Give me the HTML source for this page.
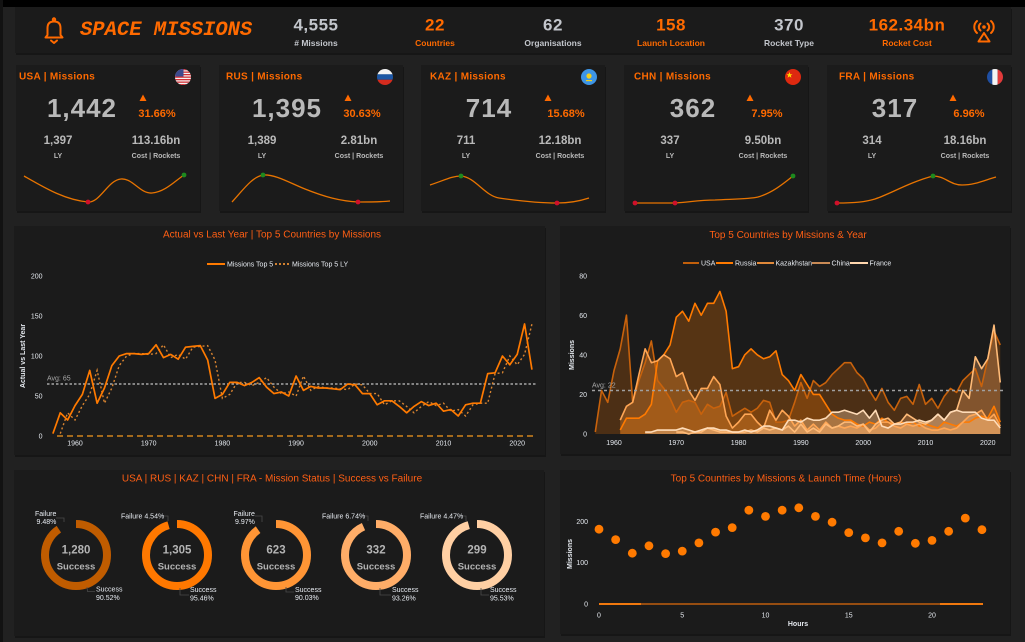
<!DOCTYPE html>
<html><head><meta charset="utf-8">
<style>
html,body{margin:0;padding:0;background:#212121;width:1025px;height:642px;overflow:hidden}
svg{display:block;font-family:"Liberation Sans",Arial,sans-serif}
.ax{font-size:7px;fill:#e4e8ee}
.axt{font-size:7px;fill:#e4e8ee;font-weight:bold}
.tt{font-size:10px;fill:#ff5f14}
.ct{font-size:10px;fill:#ff6a00;font-weight:bold;letter-spacing:0.3px}
.big{font-size:26px;fill:#b9b9b9;font-weight:bold;text-anchor:middle;letter-spacing:1px}
.pct{font-size:11px;fill:#ff6a00;font-weight:bold;text-anchor:middle}
.mid{font-size:11.5px;fill:#b9b9b9;font-weight:bold;text-anchor:middle}
.lab{font-size:7px;fill:#b9b9b9;font-weight:bold;text-anchor:middle}
.hn{font-size:17px;font-weight:bold;text-anchor:middle;letter-spacing:0.5px}
.hl{font-size:8.5px;font-weight:bold;text-anchor:middle}
.g{fill:#c3c6cc}
.o{fill:#ff6a00}
.dn{font-size:11.5px;fill:#b4b4b4;font-weight:bold;text-anchor:middle}
.ds{font-size:9.5px;fill:#b4b4b4;font-weight:bold;text-anchor:middle}
.dl{font-size:7px;fill:#e8ecf2}
.lg{font-size:7px;fill:#e8ecf2}
</style></head>
<body>
<svg width="1025" height="642" viewBox="0 0 1025 642" xmlns="http://www.w3.org/2000/svg">
<defs>
<clipPath id="fc"><circle cx="0" cy="0" r="8"/></clipPath>
</defs>
<rect x="0" y="0" width="1025" height="642" fill="#212121"/>
<rect x="0" y="0" width="1025" height="7" fill="#000"/>
<rect x="0" y="0" width="3" height="642" fill="#121212"/>

<!-- Panels -->
<g fill="#161616">
<rect x="16" y="9" width="996" height="46"/>
<rect x="17" y="67" width="184" height="146"/>
<rect x="220" y="67" width="184" height="146"/>
<rect x="422" y="67" width="184" height="146"/>
<rect x="625" y="67" width="184" height="146"/>
<rect x="828" y="67" width="184" height="146"/>
<rect x="15" y="228" width="531" height="229"/>
<rect x="561" y="228" width="450" height="228"/>
<rect x="15" y="472" width="530" height="166"/>
<rect x="561" y="472" width="450" height="164"/>
</g>
<g fill="#1b1b1b">
<rect x="15" y="7" width="996" height="46"/>
<rect x="16" y="65" width="184" height="146"/>
<rect x="219" y="65" width="184" height="146"/>
<rect x="421" y="65" width="184" height="146"/>
<rect x="624" y="65" width="184" height="146"/>
<rect x="827" y="65" width="184" height="146"/>
<rect x="14" y="226" width="531" height="229"/>
<rect x="560" y="226" width="450" height="228"/>
<rect x="14" y="470" width="530" height="166"/>
<rect x="560" y="470" width="450" height="164"/>
</g>

<!-- Header -->
<g fill="none" stroke="#ff6a00" stroke-width="2" stroke-linejoin="round" stroke-linecap="round">
<circle cx="54" cy="19.5" r="1.2"/>
<path d="M47.5,35 L47.5,28 C47.5,23.5 50,21.5 54,21.5 C58,21.5 60.5,23.5 60.5,28 L60.5,35 L62.5,37.5 L45.5,37.5 L47.5,35 Z"/>
<path d="M51,40.5 L54,43 L57,40.5"/>
</g>
<text x="80" y="35" style="font-family:'Liberation Mono',monospace;font-size:20.5px;font-weight:bold;font-style:italic;fill:#ff6a00">SPACE MISSIONS</text>

<text x="316" y="30.5" class="hn g">4,555</text>
<text x="316" y="46" class="hl g"># Missions</text>
<text x="435" y="30.5" class="hn o">22</text>
<text x="435" y="46" class="hl o">Countries</text>
<text x="553" y="30.5" class="hn g">62</text>
<text x="553" y="46" class="hl g">Organisations</text>
<text x="671" y="30.5" class="hn o">158</text>
<text x="671" y="46" class="hl o">Launch Location</text>
<text x="789" y="30.5" class="hn g">370</text>
<text x="789" y="46" class="hl g">Rocket Type</text>
<text x="907" y="30.5" class="hn o">162.34bn</text>
<text x="907" y="46" class="hl o">Rocket Cost</text>

<g fill="none" stroke="#ff6a00" stroke-width="2" stroke-linecap="round">
<path d="M980.5,23.5 A4.5,4.5 0 0 0 980.5,30.5"/>
<path d="M987.5,23.5 A4.5,4.5 0 0 1 987.5,30.5"/>
<path d="M977,21 A8,8 0 0 0 977,33"/>
<path d="M991,21 A8,8 0 0 1 991,33"/>
<path d="M984,33 L978.5,41.5 L989.5,41.5 Z" stroke-linejoin="round"/>
</g>
<circle cx="984" cy="27" r="1.8" fill="#ff6a00"/>

<!-- KPI Cards -->
<g transform="translate(16,0)">
<text x="3" y="79.5" class="ct">USA | Missions</text>
<g transform="translate(167,77)"><g clip-path="url(#fc)">
<rect x="-8" y="-8" width="16" height="16" fill="#f4f4f4"/>
<g fill="#d22f35"><rect x="-8" y="-8" width="16" height="1.3"/><rect x="-8" y="-5.5" width="16" height="1.3"/><rect x="-8" y="-3" width="16" height="1.3"/><rect x="-8" y="-0.5" width="16" height="1.3"/><rect x="-8" y="2" width="16" height="1.3"/><rect x="-8" y="4.5" width="16" height="1.3"/><rect x="-8" y="7" width="16" height="1.3"/></g>
<rect x="-8" y="-8" width="8.5" height="7.5" fill="#3c4a8e"/>
</g></g>
<text x="66" y="117" class="big">1,442</text>
<polygon points="123.5,101 127,94.5 130.5,101" fill="#ff6a00"/>
<text x="141" y="117" class="pct">31.66%</text>
<text x="42" y="144" class="mid">1,397</text>
<text x="42" y="158" class="lab">LY</text>
<text x="140" y="144" class="mid">113.16bn</text>
<text x="140" y="158" class="lab">Cost | Rockets</text>
</g>

<g transform="translate(219,0)">
<text x="7" y="79.5" class="ct">RUS | Missions</text>
<g transform="translate(166,77)"><g clip-path="url(#fc)">
<rect x="-8" y="-8" width="16" height="5.4" fill="#f4f4f4"/>
<rect x="-8" y="-2.7" width="16" height="5.4" fill="#1c57a5"/>
<rect x="-8" y="2.7" width="16" height="5.4" fill="#d52b1e"/>
</g></g>
<text x="68" y="117" class="big">1,395</text>
<polygon points="125.5,101 129,94.5 132.5,101" fill="#ff6a00"/>
<text x="143" y="117" class="pct">30.63%</text>
<text x="43" y="144" class="mid">1,389</text>
<text x="43" y="158" class="lab">LY</text>
<text x="140" y="144" class="mid">2.81bn</text>
<text x="140" y="158" class="lab">Cost | Rockets</text>
</g>

<g transform="translate(421,0)">
<text x="9" y="79.5" class="ct">KAZ | Missions</text>
<g transform="translate(168,77)"><g clip-path="url(#fc)">
<rect x="-8" y="-8" width="16" height="16" fill="#3d95e6"/>
<circle cx="0" cy="-1" r="2.6" fill="#f2cf1a"/>
<rect x="-3" y="3" width="6" height="1.2" fill="#f2cf1a"/>
</g></g>
<text x="68" y="117" class="big">714</text>
<polygon points="123.5,101 127,94.5 130.5,101" fill="#ff6a00"/>
<text x="145" y="117" class="pct">15.68%</text>
<text x="45" y="144" class="mid">711</text>
<text x="45" y="158" class="lab">LY</text>
<text x="139" y="144" class="mid">12.18bn</text>
<text x="139" y="158" class="lab">Cost | Rockets</text>
</g>

<g transform="translate(624,0)">
<text x="10" y="79.5" class="ct">CHN | Missions</text>
<g transform="translate(169,77)"><g clip-path="url(#fc)">
<rect x="-8" y="-8" width="16" height="16" fill="#de2910"/>
<polygon points="-3.5,-5 -2.7,-2.8 -0.5,-2.8 -2.2,-1.5 -1.6,0.7 -3.5,-0.6 -5.4,0.7 -4.8,-1.5 -6.5,-2.8 -4.3,-2.8" fill="#ffde00"/>
</g></g>
<text x="69" y="117" class="big">362</text>
<polygon points="122.5,101 126,94.5 129.5,101" fill="#ff6a00"/>
<text x="143" y="117" class="pct">7.95%</text>
<text x="46" y="144" class="mid">337</text>
<text x="46" y="158" class="lab">LY</text>
<text x="139" y="144" class="mid">9.50bn</text>
<text x="139" y="158" class="lab">Cost | Rockets</text>
</g>

<g transform="translate(827,0)">
<text x="12" y="79.5" class="ct">FRA | Missions</text>
<g transform="translate(168,77)"><g clip-path="url(#fc)">
<rect x="-8" y="-8" width="5.4" height="16" fill="#1f4fa3"/>
<rect x="-2.7" y="-8" width="5.4" height="16" fill="#f4f4f4"/>
<rect x="2.7" y="-8" width="5.4" height="16" fill="#e23a3a"/>
</g></g>
<text x="68" y="117" class="big">317</text>
<polygon points="122.5,101 126,94.5 129.5,101" fill="#ff6a00"/>
<text x="142" y="117" class="pct">6.96%</text>
<text x="45" y="144" class="mid">314</text>
<text x="45" y="158" class="lab">LY</text>
<text x="138" y="144" class="mid">18.16bn</text>
<text x="138" y="158" class="lab">Cost | Rockets</text>
</g>

<!-- Sparklines -->
<g fill="none" stroke="#e87400" stroke-width="1.3">
<path d="M24,176 C45,188 65,200 88,202 C100,203 108,180 121,179 C133,178 140,194 152,193 C165,192 175,181 184,175"/>
<path d="M232,202 C243,190 252,177 263,175 C275,174 290,183 305,189 C325,197 340,201 358,202 C370,202 380,202 390,201"/>
<path d="M430,185 C445,180 452,176 461,176 C475,177 485,196 499,198 C520,201 540,203 557,203 C570,203 580,201 589,198"/>
<path d="M635,203 L675,203 C690,202 700,200 715,200 C735,199 750,199 758,197 C772,193 783,184 793,176"/>
<path d="M837,203 C855,203 865,202 875,199 C888,195 910,182 933,176 C945,176 950,185 962,185 C975,185 985,180 996,177"/>
</g>
<g fill="#d0102a">
<circle cx="88" cy="202" r="2.4"/><circle cx="358" cy="202" r="2.4"/><circle cx="557" cy="203" r="2.4"/>
<circle cx="635" cy="203" r="2.4"/><circle cx="675" cy="203" r="2.4"/><circle cx="837" cy="203" r="2.4"/>
</g>
<g fill="#1e8a1e">
<circle cx="184" cy="175" r="2.4"/><circle cx="263" cy="175" r="2.4"/><circle cx="461" cy="176" r="2.4"/>
<circle cx="793" cy="176" r="2.4"/><circle cx="933" cy="176" r="2.4"/>
</g>

<!-- Left line chart -->
<text x="272" y="237.5" class="tt" text-anchor="middle">Actual vs Last Year | Top 5 Countries by Missions</text>
<line x1="207" y1="264" x2="225" y2="264" stroke="#ff7a00" stroke-width="2"/>
<text x="227" y="266.5" class="lg">Missions Top 5</text>
<line x1="275" y1="264" x2="290" y2="264" stroke="#d08030" stroke-width="2" stroke-dasharray="2,2"/>
<text x="292" y="266.5" class="lg">Missions Top 5  LY</text>
<g class="ax" text-anchor="end">
<text x="42.5" y="278.5">200</text><text x="42.5" y="318.5">150</text><text x="42.5" y="358.5">100</text><text x="42.5" y="398.5">50</text><text x="42.5" y="438.5">0</text>
</g>
<g class="ax" text-anchor="middle">
<text x="75" y="445.5">1960</text><text x="148.7" y="445.5">1970</text><text x="222.4" y="445.5">1980</text><text x="296.1" y="445.5">1990</text><text x="369.8" y="445.5">2000</text><text x="443.5" y="445.5">2010</text><text x="517.2" y="445.5">2020</text>
</g>
<text class="axt" text-anchor="middle" transform="translate(25,356) rotate(-90)">Actual vs Last Year</text>
<line x1="57" y1="436" x2="537" y2="436" stroke="#f59a1c" stroke-width="1.3" stroke-dasharray="6,4"/>
<line x1="47" y1="384" x2="537" y2="384" stroke="#a8a8a8" stroke-width="1.6" stroke-dasharray="2.5,2"/>
<text x="47" y="380.5" style="font-size:7px;fill:#a8a8a8">Avg: 65</text>
<polyline fill="none" stroke="#d98430" stroke-width="1.4" stroke-dasharray="2,2.5" points="60.26,433.6 67.63,412.8 75,420 82.37,405.6 89.74,394.4 97.11,370.4 104.48,403.2 111.85,388 119.22,365.6 126.59,356 133.96,353.6 141.33,353.6 148.7,354.4 156.07,353.6 163.44,344.8 170.81,357.6 178.18,354.4 185.55,359.2 192.92,347.2 200.29,346.4 207.66,345.6 215.03,360 222.4,398.4 229.77,394.4 237.14,382.4 244.51,382.4 251.88,385.6 259.25,382.4 266.62,377.6 273.99,387.2 281.36,393.6 288.73,392 296.1,396 303.47,376 310.84,390.4 318.21,386.4 325.58,388 332.95,388 340.32,388.8 347.69,389.6 355.06,384 362.43,384.8 369.8,393.6 377.17,393.6 384.54,404.8 391.91,400.8 399.28,400.8 406.65,406.4 414.02,412.8 421.39,406.4 428.76,401.6 436.13,405.6 443.5,403.2 450.87,411.2 458.24,409.6 465.61,416 472.98,404.8 480.35,403.2 487.72,403.2 495.09,373.6 502.46,372.8 509.83,356 517.2,364.8 524.57,354.4 531.94,324"/>
<polyline fill="none" stroke="#ff7a00" stroke-width="1.7" stroke-linejoin="round" points="52.89,433.6 60.26,412.8 67.63,420 75,405.6 82.37,394.4 89.74,370.4 97.11,403.2 104.48,388 111.85,365.6 119.22,356 126.59,353.6 133.96,353.6 141.33,354.4 148.7,353.6 156.07,344.8 163.44,357.6 170.81,354.4 178.18,359.2 185.55,347.2 192.92,346.4 200.29,345.6 207.66,360 215.03,398.4 222.4,394.4 229.77,382.4 237.14,382.4 244.51,385.6 251.88,382.4 259.25,377.6 266.62,387.2 273.99,393.6 281.36,392 288.73,396 296.1,376 303.47,390.4 310.84,386.4 318.21,388 325.58,388 332.95,388.8 340.32,389.6 347.69,384 355.06,384.8 362.43,393.6 369.8,393.6 377.17,404.8 384.54,400.8 391.91,400.8 399.28,406.4 406.65,412.8 414.02,406.4 421.39,401.6 428.76,405.6 436.13,403.2 443.5,411.2 450.87,409.6 458.24,416 465.61,404.8 472.98,403.2 480.35,403.2 487.72,373.6 495.09,372.8 502.46,356 509.83,364.8 517.2,354.4 524.57,324 531.94,369.6"/>

<!-- Right area chart -->
<text x="788" y="238" class="tt" text-anchor="middle">Top 5 Countries by Missions &amp; Year</text>
<g stroke-width="2">
<line x1="683" y1="263" x2="699" y2="263" stroke="#c15f0b"/>
<line x1="716" y1="263" x2="733" y2="263" stroke="#ff7a00"/>
<line x1="757" y1="263" x2="774" y2="263" stroke="#e0893a"/>
<line x1="812" y1="263" x2="830" y2="263" stroke="#c98a55"/>
<line x1="850" y1="263" x2="868" y2="263" stroke="#ffd7ae"/>
</g>
<text x="701" y="265.5" class="lg">USA</text>
<text x="735" y="265.5" class="lg">Russia</text>
<text x="775.5" y="265.5" class="lg">Kazakhstan</text>
<text x="831.5" y="265.5" class="lg">China</text>
<text x="869.5" y="265.5" class="lg">France</text>
<g class="ax" text-anchor="end">
<text x="587" y="278.5">80</text><text x="587" y="318">60</text><text x="587" y="357.5">40</text><text x="587" y="397">20</text><text x="587" y="436.5">0</text>
</g>
<g class="ax" text-anchor="middle">
<text x="614" y="445">1960</text><text x="676.3" y="445">1970</text><text x="738.6" y="445">1980</text><text x="800.9" y="445">1990</text><text x="863.2" y="445">2000</text><text x="925.5" y="445">2010</text><text x="987.8" y="445">2020</text>
</g>
<text class="axt" text-anchor="middle" transform="translate(574,355) rotate(-90)">Missions</text>

<g transform="translate(595.3,434) scale(6.23,-1.98)">
<g stroke-width="1.6" vector-effect="non-scaling-stroke" stroke-linejoin="round">
<polygon fill="#c15f0b" fill-opacity="0.3" stroke="none" points="0,0 0,1 1,22 2,16 3,32 4,43 5,60 6,16 7,27 8,36 9,47 10,27 11,23 12,18 13,11 14,16 15,17 16,16 17,10 18,15 19,13 20,14 21,21 22,9 23,11 24,13 25,11 26,13 27,17 28,16 29,6 30,6 31,7 32,16 33,26 34,18 35,27 36,24 37,26 38,30 39,33 40,36 41,36 42,31 43,28 44,22 45,17 46,23 47,16 48,12 49,18 50,19 51,15 52,25 53,15 54,18 55,13 56,19 57,23 58,21 59,27 60,30 61,33 62,24 63,38 64,52 65,45 65,0"/>
<polygon fill="#ff7a00" fill-opacity="0.26" stroke="none" points="4,0 4,2 5,8 6,8 7,8 8,10 9,15 10,37 11,40 12,45 13,59 14,62 15,57 16,66 17,60 18,66 19,66 20,72 21,62 22,33 23,34 24,40 25,43 26,40 27,38 28,39 29,42 30,30 31,27 32,22 33,30 34,25 35,20 36,20 37,15 38,10 39,8 40,7 41,7 42,5 43,4 44,6 45,5 46,8 47,6 48,5 49,6 50,5 51,6 52,4 53,5 54,4 55,3 56,6 57,5 58,4 59,6 60,6 61,8 62,9 63,8 64,14 65,6 65,0"/>
<polygon fill="#ff9433" fill-opacity="0.3" stroke="none" points="4,0 4,7 5,14 6,16 7,30 8,43 9,36 10,37 11,40 12,38 13,29 14,31 15,22 16,17 17,23 18,23 19,29 20,25 21,9 22,3 23,6 24,10 25,10 26,6 27,3 28,12 29,7 30,12 31,9 32,4 33,7 34,2 35,5 36,2 37,6 38,3 39,4 40,3 41,4 42,3 43,5 44,2 45,3 46,6 47,6 48,4 49,3 50,5 51,4 52,5 53,3 54,2 55,2 56,3 57,2 58,3 59,6 60,9 61,10 62,12 63,7 64,10 65,4 65,0"/>
<polygon fill="#ffad66" fill-opacity="0.3" stroke="none" points="13,0 13,1 14,1 15,0 16,1 17,1 18,3 19,2 20,1 21,1 22,1 23,1 24,1 25,2 26,1 27,3 28,2 29,3 30,2 31,4 32,1 33,5 34,1 35,3 36,1 37,5 38,3 39,4 40,6 41,6 42,4 43,5 44,1 45,5 46,7 47,8 48,5 49,6 50,10 51,8 52,6 53,5 54,7 55,10 56,7 57,11 58,12 59,22 60,18 61,39 62,33 63,38 64,55 65,26 65,0"/>
<polygon fill="#ffd1a3" fill-opacity="0.35" stroke="none" points="8,0 8,1 9,1 10,2 11,2 12,2 13,2 14,3 15,2 16,1 17,2 18,3 19,3 20,2 21,2 22,1 23,1 24,2 25,1 26,2 27,4 28,4 29,3 30,2 31,7 32,7 33,6 34,8 35,7 36,7 37,8 38,11 39,11 40,12 41,11 42,10 43,12 44,8 45,12 46,4 47,3 48,5 49,5 50,6 51,6 52,7 53,6 54,7 55,10 56,7 57,11 58,12 59,11 60,11 61,11 62,8 63,7 64,7 65,3 65,0"/>
<polyline fill="none" stroke="#c8620c" stroke-width="1.6" vector-effect="non-scaling-stroke" points="0,1 1,22 2,16 3,32 4,43 5,60 6,16 7,27 8,36 9,47 10,27 11,23 12,18 13,11 14,16 15,17 16,16 17,10 18,15 19,13 20,14 21,21 22,9 23,11 24,13 25,11 26,13 27,17 28,16 29,6 30,6 31,7 32,16 33,26 34,18 35,27 36,24 37,26 38,30 39,33 40,36 41,36 42,31 43,28 44,22 45,17 46,23 47,16 48,12 49,18 50,19 51,15 52,25 53,15 54,18 55,13 56,19 57,23 58,21 59,27 60,30 61,33 62,24 63,38 64,52 65,45"/>
<polyline fill="none" stroke="#ff7a00" stroke-width="1.6" vector-effect="non-scaling-stroke" points="4,2 5,8 6,8 7,8 8,10 9,15 10,37 11,40 12,45 13,59 14,62 15,57 16,66 17,60 18,66 19,66 20,72 21,62 22,33 23,34 24,40 25,43 26,40 27,38 28,39 29,42 30,30 31,27 32,22 33,30 34,25 35,20 36,20 37,15 38,10 39,8 40,7 41,7 42,5 43,4 44,6 45,5 46,8 47,6 48,5 49,6 50,5 51,6 52,4 53,5 54,4 55,3 56,6 57,5 58,4 59,6 60,6 61,8 62,9 63,8 64,14 65,6"/>
<polyline fill="none" stroke="#ffa655" stroke-width="1.6" vector-effect="non-scaling-stroke" points="4,7 5,14 6,16 7,30 8,43 9,36 10,37 11,40 12,38 13,29 14,31 15,22 16,17 17,23 18,23 19,29 20,25 21,9 22,3 23,6 24,10 25,10 26,6 27,3 28,12 29,7 30,12 31,9 32,4 33,7 34,2 35,5 36,2 37,6 38,3 39,4 40,3 41,4 42,3 43,5 44,2 45,3 46,6 47,6 48,4 49,3 50,5 51,4 52,5 53,3 54,2 55,2 56,3 57,2 58,3 59,6 60,9 61,10 62,12 63,7 64,10 65,4"/>
<polyline fill="none" stroke="#ffbb78" stroke-width="1.6" vector-effect="non-scaling-stroke" points="13,1 14,1 15,0 16,1 17,1 18,3 19,2 20,1 21,1 22,1 23,1 24,1 25,2 26,1 27,3 28,2 29,3 30,2 31,4 32,1 33,5 34,1 35,3 36,1 37,5 38,3 39,4 40,6 41,6 42,4 43,5 44,1 45,5 46,7 47,8 48,5 49,6 50,10 51,8 52,6 53,5 54,7 55,10 56,7 57,11 58,12 59,22 60,18 61,39 62,33 63,38 64,55 65,26"/>
<polyline fill="none" stroke="#ffdcb8" stroke-width="1.6" vector-effect="non-scaling-stroke" points="8,1 9,1 10,2 11,2 12,2 13,2 14,3 15,2 16,1 17,2 18,3 19,3 20,2 21,2 22,1 23,1 24,2 25,1 26,2 27,4 28,4 29,3 30,2 31,7 32,7 33,6 34,8 35,7 36,7 37,8 38,11 39,11 40,12 41,11 42,10 43,12 44,8 45,12 46,4 47,3 48,5 49,5 50,6 51,6 52,7 53,6 54,7 55,10 56,7 57,11 58,12 59,11 60,11 61,11 62,8 63,7 64,7 65,3"/>
</g>
</g>
<line x1="592" y1="390.5" x2="1004" y2="390.5" stroke="#a0a0a0" stroke-width="1.4" stroke-dasharray="3,3"/>
<text x="592" y="387.5" style="font-size:7px;fill:#a8a8a8">Avg: 22</text>

<!-- Donuts -->
<text x="272" y="481.5" class="tt" text-anchor="middle">USA | RUS | KAZ | CHN | FRA - Mission Status | Success vs Failure</text>
<g fill="none" stroke-width="8">
<circle cx="76" cy="555" r="31" stroke="#c05c00" stroke-dasharray="176.3 300" transform="rotate(-90 76 555)"/>
<circle cx="177" cy="555" r="31" stroke="#ff7800" stroke-dasharray="185.9 300" transform="rotate(-90 177 555)"/>
<circle cx="276" cy="555" r="31" stroke="#ff9535" stroke-dasharray="175.4 300" transform="rotate(-90 276 555)"/>
<circle cx="376" cy="555" r="31" stroke="#ffad68" stroke-dasharray="181.6 300" transform="rotate(-90 376 555)"/>
<circle cx="477" cy="555" r="31" stroke="#ffcfa3" stroke-dasharray="186.1 300" transform="rotate(-90 477 555)"/>
</g>
<g class="dn">
<text x="76" y="553.3">1,280</text><text x="177" y="553.3">1,305</text><text x="276" y="553.3">623</text><text x="376" y="553.3">332</text><text x="477" y="553.3">299</text>
</g>
<g class="ds">
<text x="76" y="569.7">Success</text><text x="177" y="569.7">Success</text><text x="276" y="569.7">Success</text><text x="376" y="569.7">Success</text><text x="477" y="569.7">Success</text>
</g>
<g fill="none" stroke="#4a4a4a" stroke-width="0.8">
<polyline points="56,518 64,518 64,522"/>
<polyline points="87,587 87.5,591.5 95,591.5"/>
<polyline points="163,516 168,516 168,521"/>
<polyline points="180,588 180,595 189,595"/>
<polyline points="255,516 262,516 262,522"/>
<polyline points="286,587 286,592 294,592"/>
<polyline points="364,516 368,516 368,521"/>
<polyline points="380,588 380,595 391,595"/>
<polyline points="462,516 466,516 466,521"/>
<polyline points="481,588 481,595 489,595"/>
</g>
<g class="dl">
<text x="35" y="516">Failure</text><text x="36.5" y="524">9.48%</text>
<text x="96" y="591.7">Success</text><text x="96" y="600">90.52%</text>
<text x="121" y="518.7">Failure 4.54%</text>
<text x="190" y="592">Success</text><text x="190" y="600.5">95.46%</text>
<text x="233.5" y="516">Failure</text><text x="235" y="524">9.97%</text>
<text x="295" y="592">Success</text><text x="295" y="600">90.03%</text>
<text x="322" y="518.7">Failure 6.74%</text>
<text x="392" y="592">Success</text><text x="392" y="600.5">93.26%</text>
<text x="420" y="518.7">Failure 4.47%</text>
<text x="490" y="592">Success</text><text x="490" y="600.5">95.53%</text>
</g>

<!-- Scatter -->
<text x="786" y="481.5" class="tt" text-anchor="middle">Top 5 Countries by Missions &amp; Launch Time (Hours)</text>
<g class="ax" text-anchor="end">
<text x="588" y="524">200</text><text x="588" y="565">100</text><text x="588" y="606.5">0</text>
</g>
<g class="ax" text-anchor="middle">
<text x="599" y="617.5">0</text><text x="682.25" y="617.5">5</text><text x="765.5" y="617.5">10</text><text x="848.75" y="617.5">15</text><text x="932" y="617.5">20</text>
</g>
<text x="798" y="626" class="axt" text-anchor="middle">Hours</text>
<text class="axt" text-anchor="middle" transform="translate(572,554) rotate(-90)">Missions</text>
<line x1="599" y1="604" x2="983" y2="604" stroke="#a85510" stroke-width="1.7"/>
<line x1="599" y1="604" x2="641" y2="604" stroke="#ff7f0e" stroke-width="1.7"/>
<line x1="940" y1="604" x2="983" y2="604" stroke="#ff7f0e" stroke-width="1.7"/>
<g fill="#ff7a00">
<circle cx="599" cy="529.2" r="4.4"/><circle cx="615.65" cy="539.6" r="4.4"/><circle cx="632.3" cy="553.2" r="4.4"/><circle cx="648.95" cy="545.8" r="4.4"/>
<circle cx="665.6" cy="553.6" r="4.4"/><circle cx="682.25" cy="551.1" r="4.4"/><circle cx="698.9" cy="542.9" r="4.4"/><circle cx="715.55" cy="532.1" r="4.4"/>
<circle cx="732.2" cy="527.6" r="4.4"/><circle cx="748.85" cy="510.2" r="4.4"/><circle cx="765.5" cy="516.4" r="4.4"/><circle cx="782.15" cy="510.2" r="4.4"/>
<circle cx="798.8" cy="507.8" r="4.4"/><circle cx="815.45" cy="516.4" r="4.4"/><circle cx="832.1" cy="522.2" r="4.4"/><circle cx="848.75" cy="532.6" r="4.4"/>
<circle cx="865.4" cy="537.9" r="4.4"/><circle cx="882.05" cy="542.9" r="4.4"/><circle cx="898.7" cy="531.3" r="4.4"/><circle cx="915.35" cy="543.3" r="4.4"/>
<circle cx="932" cy="540.4" r="4.4"/><circle cx="948.65" cy="531.3" r="4.4"/><circle cx="965.3" cy="518.1" r="4.4"/><circle cx="981.95" cy="529.7" r="4.4"/>
</g>
</svg>
</body></html>
